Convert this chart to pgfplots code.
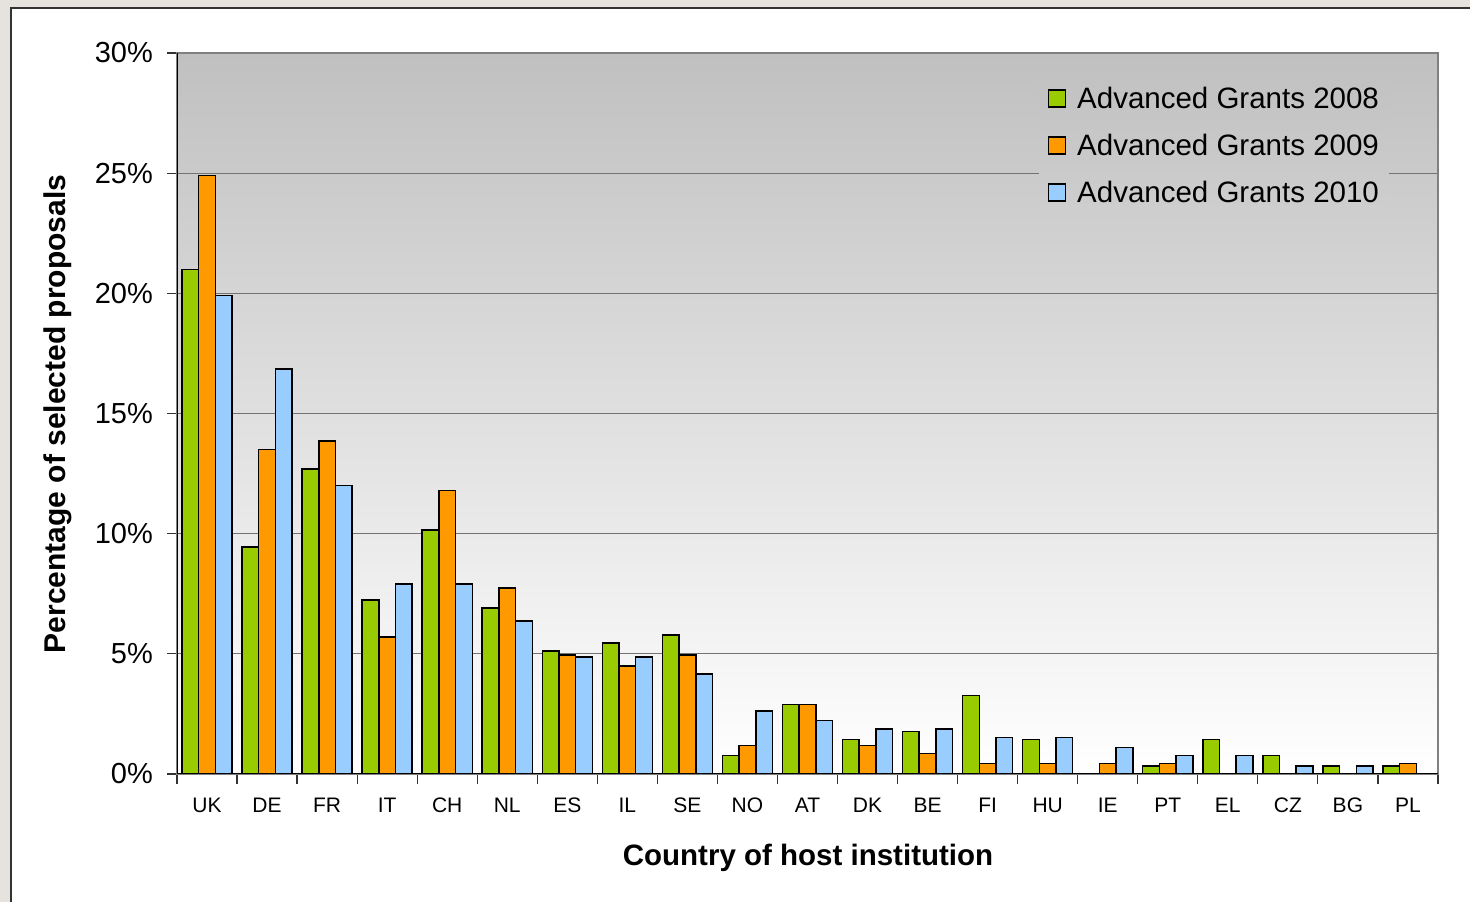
\documentclass[border=0pt]{standalone}
\usepackage{fontspec}
\setmainfont{Liberation Sans}
\usepackage{pgfplots}
\pgfplotsset{compat=1.18}
\definecolor{cg}{HTML}{99CC00}
\definecolor{co}{HTML}{FF9900}
\definecolor{cb}{HTML}{99CCFF}
\definecolor{outer}{HTML}{E6E2DE}
\definecolor{bgtop}{HTML}{C0C0C0}
\definecolor{legtop}{HTML}{C2C2C2}
\definecolor{legbot}{HTML}{CECECE}
\begin{document}
\begin{tikzpicture}[x=1pt,y=1pt]
\useasboundingbox (0,0) rectangle (1470,902);
\fill[outer] (0,0) rectangle (1470,902);
\draw[line width=1.6pt, fill=white, draw=black!80] (11,-30) rectangle (1510,894);
\begin{axis}[
  at={(177pt,128pt)}, anchor=south west,
  width=1261pt, height=721pt, scale only axis,
  ymin=0, ymax=30, xmin=-0.5, xmax=20.5,
  ybar=0pt, bar width=16.7pt,
  axis background/.style={top color=bgtop, bottom color=white},
  axis line style={draw=black!50, line width=1.2pt},
  ytick={0,5,10,15,20,25,30},
  yticklabels={0\%,5\%,10\%,15\%,20\%,25\%,30\%},
  xtick={-0.5,0.5,1.5,2.5,3.5,4.5,5.5,6.5,7.5,8.5,9.5,10.5,11.5,12.5,13.5,14.5,15.5,16.5,17.5,18.5,19.5,20.5},
  x tick label as interval,
  xticklabels={UK,DE,FR,IT,CH,NL,ES,IL,SE,NO,AT,DK,BE,FI,HU,IE,PT,EL,CZ,BG,PL},
  tick align=outside, major tick length=10pt,
  tick style={black!80, line width=1.2pt},
  xtick pos=bottom, ytick pos=left,
  ymajorgrids, grid style={draw=black!55, line width=1pt},
  yticklabel style={font=\fontsize{29}{34}\selectfont, inner sep=0pt, xshift=-14pt},
  xticklabel style={font=\fontsize{21}{25}\selectfont, inner sep=0pt, yshift=-14pt},
  xlabel={\textbf{Country of host institution}},
  ylabel={\textbf{Percentage of selected proposals}},
  xlabel style={font=\fontsize{29.5}{34}\selectfont, at={(axis description cs:0.5004,-0.1165)}, anchor=center},
  ylabel style={font=\fontsize{30}{34}\selectfont, at={(axis description cs:-0.0944,0.4993)}, anchor=center},
  legend style={at={(axis description cs:0.684,0.9612)}, anchor=north west, draw=none, fill=none,
    top color=legtop, bottom color=legbot,
    font=\fontsize{29.5}{34}\selectfont, row sep=20pt, inner xsep=8pt, inner ysep=4pt,
    nodes={inner sep=2pt}},
  legend cell align=left,
  mylegend/.style={legend image code/.code={\draw[##1, line width=1.4pt] (0pt,-8.5pt) rectangle (17pt,8.5pt); \path (26pt,0pt);}},
]
\addplot[fill=cg, draw=black, line width=1.5pt, mylegend] coordinates {
(0,21.0) (1,9.45) (2,12.7) (3,7.24) (4,10.15) (5,6.9) (6,5.12) (7,5.45) (8,5.78) (9,0.76) (10,2.9)
(11,1.44) (12,1.77) (13,3.26) (14,1.44) (15,0) (16,0.33) (17,1.44) (18,0.76) (19,0.33) (20,0.33)};
\addplot[fill=co, draw=black, line width=1.5pt, mylegend] coordinates {
(0,24.9) (1,13.5) (2,13.86) (3,5.7) (4,11.8) (5,7.74) (6,4.95) (7,4.5) (8,4.95) (9,1.19) (10,2.9)
(11,1.19) (12,0.86) (13,0.43) (14,0.43) (15,0.43) (16,0.43) (17,0) (18,0) (19,0) (20,0.43)};
\addplot[fill=cb, draw=black, line width=1.5pt, mylegend] coordinates {
(0,19.9) (1,16.85) (2,12.0) (3,7.9) (4,7.9) (5,6.37) (6,4.87) (7,4.87) (8,4.16) (9,2.63) (10,2.22)
(11,1.87) (12,1.87) (13,1.52) (14,1.52) (15,1.1) (16,0.76) (17,0.76) (18,0.33) (19,0.33) (20,0)};
\legend{Advanced Grants 2008, Advanced Grants 2009, Advanced Grants 2010}
\draw[black, line width=1.4pt] (rel axis cs:0,1) -- (rel axis cs:0,0) -- (rel axis cs:1,0);
\end{axis}
\end{tikzpicture}
\end{document}
